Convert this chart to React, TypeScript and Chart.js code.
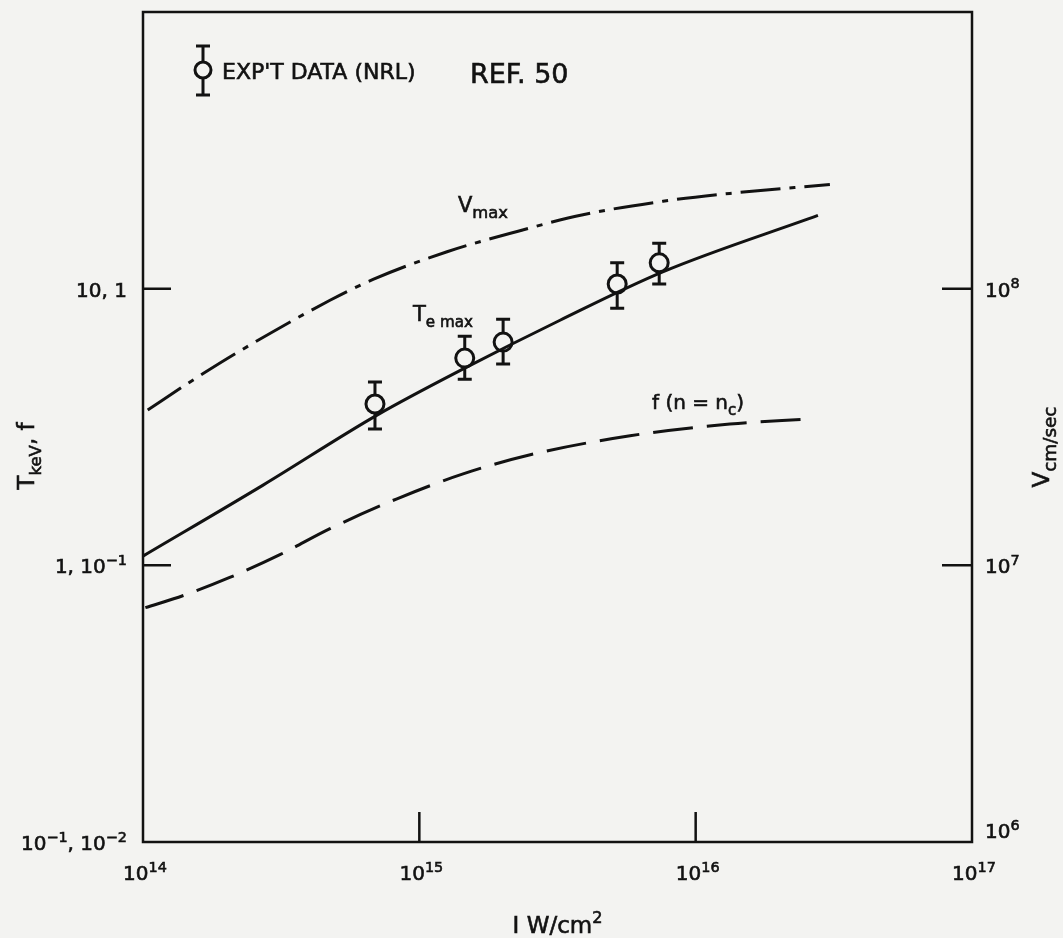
import React, { useEffect, useRef } from "react";
import { Chart, registerables } from "chart.js";

Chart.register(...registerables);

const W = 1063;
const H = 938;
const FONT = '"DejaVu Sans", "Liberation Sans", sans-serif';
const INK = "#121212";
const PAPER = "#f3f3f1";

// ---- data ----
// Te max (solid), keV
const teX = [1e14, 2.72e14, 7.03e14, 1.46e15, 3.23e15, 7.6e15, 2.77e16];
const teY = [1.08, 1.95, 3.49, 5.16, 7.69, 11.5, 18.4];
// Vmax (dash-dot), cm/sec
const vX = [1.04e14, 1.46e14, 2.24e14, 4.75e14, 6.8e14, 1.26e15, 2.26e15, 3.91e15, 7.62e15, 1.33e16, 3.06e16];
const vY = [3.64e7, 4.56e7, 5.95e7, 9.08e7, 1.08e8, 1.36e8, 1.61e8, 1.85e8, 2.07e8, 2.21e8, 2.38e8];
// f(n = nc) (dashed), fraction
const fX = [1.02e14, 1.4e14, 2.06e14, 3.13e14, 4.75e14, 8.3e14, 1.44e15, 2.52e15, 5.79e15, 1.33e16, 2.55e16];
const fY = [0.0703, 0.0778, 0.0904, 0.1093, 0.1357, 0.174, 0.214, 0.251, 0.294, 0.324, 0.338];
// experimental data (NRL), keV with error bars
const expX = [6.91e14, 1.46e15, 2.01e15, 5.2e15, 7.38e15];
const expY = [3.83, 5.61, 6.41, 10.4, 12.4];
const expLo = [3.11, 4.71, 5.34, 8.5, 10.4];
const expHi = [4.6, 6.73, 7.76, 12.4, 14.6];

// ---- ticks ----
const xTicks = [1e14, 1e15, 1e16, 1e17];
const xTickLabels = ["10^{14}", "10^{15}", "10^{16}", "10^{17}"];
const leftTicks = [0.1, 1, 10];
const leftTickLabels = ["10^{−1}, 10^{−2}", "1, 10^{−1}", "10, 1"];
const rightTicks = [1e6, 1e7, 1e8];
const rightTickLabels = ["10^{6}", "10^{7}", "10^{8}"];

// ---- texts ----
const xTitle = "I W/cm^{2}";
const yTitle = "T_{keV}, f";
const y1Title = "V_{cm/sec}";
const legendText = "EXP'T DATA (NRL)";
const refText = "REF. 50";
const vLabel = "V_{max}";
const teLabel = "T_{e max}";
const fLabel = "f (n = n_{c})";

type Seg = { t: string; k: number };
function parseRich(s: string): Seg[] {
  const segs: Seg[] = [];
  let cur = "";
  let i = 0;
  while (i < s.length) {
    const c = s[i];
    if ((c === "^" || c === "_") && s[i + 1] === "{") {
      if (cur) {
        segs.push({ t: cur, k: 0 });
        cur = "";
      }
      const end = s.indexOf("}", i + 2);
      segs.push({ t: s.slice(i + 2, end), k: c === "^" ? 1 : -1 });
      i = end + 1;
    } else {
      cur += c;
      i++;
    }
  }
  if (cur) segs.push({ t: cur, k: 0 });
  return segs;
}

function drawRich(
  ctx: CanvasRenderingContext2D,
  s: string,
  x: number,
  y: number,
  size: number,
  align: "left" | "center" | "right" = "left",
  scriptRatio = 0.74
) {
  const segs = parseRich(s);
  const small = size * scriptRatio;
  const fontFor = (k: number) => `${k === 0 ? size : small}px ${FONT}`;
  let total = 0;
  const widths = segs.map((sg) => {
    ctx.font = fontFor(sg.k);
    const w = ctx.measureText(sg.t).width;
    total += w;
    return w;
  });
  let cx = align === "left" ? x : align === "center" ? x - total / 2 : x - total;
  ctx.save();
  ctx.textAlign = "left";
  ctx.textBaseline = "alphabetic";
  ctx.fillStyle = INK;
  ctx.strokeStyle = INK;
  ctx.lineWidth = 0.6;
  ctx.setLineDash([]);
  segs.forEach((sg, i) => {
    ctx.font = fontFor(sg.k);
    const dy = sg.k === 1 ? -size * 0.42 : sg.k === -1 ? size * 0.3 : 0;
    ctx.fillText(sg.t, cx, y + dy);
    ctx.strokeText(sg.t, cx, y + dy);
    cx += widths[i];
  });
  ctx.restore();
}

const paperPlugin = {
  id: "paper",
  beforeDraw(chart: any) {
    const { ctx, width, height } = chart;
    ctx.save();
    ctx.fillStyle = PAPER;
    ctx.fillRect(0, 0, width, height);
    ctx.restore();
  },
};

const errorBarPlugin = {
  id: "errbars",
  beforeDatasetsDraw(chart: any) {
    const { ctx } = chart;
    const xs = chart.scales.x;
    const ys = chart.scales.y;
    ctx.save();
    ctx.strokeStyle = INK;
    ctx.lineWidth = 3;
    expX.forEach((v, i) => {
      const px = xs.getPixelForValue(v);
      const lo = ys.getPixelForValue(expLo[i]);
      const hi = ys.getPixelForValue(expHi[i]);
      ctx.beginPath();
      ctx.moveTo(px, lo);
      ctx.lineTo(px, hi);
      ctx.moveTo(px - 7, lo);
      ctx.lineTo(px + 7, lo);
      ctx.moveTo(px - 7, hi);
      ctx.lineTo(px + 7, hi);
      ctx.stroke();
    });
    ctx.restore();
  },
};

const framePlugin = {
  id: "frame",
  afterDraw(chart: any) {
    const { ctx, chartArea } = chart;
    const { left, right, top, bottom } = chartArea;
    const xs = chart.scales.x;
    const ys = chart.scales.y;
    const y1 = chart.scales.y1;
    ctx.save();
    ctx.strokeStyle = INK;
    ctx.fillStyle = INK;
    ctx.lineWidth = 2.5;
    ctx.strokeRect(left, top, right - left, bottom - top);

    // inward ticks (inner decades only)
    ctx.beginPath();
    xTicks.slice(1, -1).forEach((v) => {
      const px = xs.getPixelForValue(v);
      ctx.moveTo(px, bottom);
      ctx.lineTo(px, bottom - 30);
    });
    leftTicks.slice(1).forEach((v) => {
      const py = ys.getPixelForValue(v);
      ctx.moveTo(left, py);
      ctx.lineTo(left + 28, py);
    });
    rightTicks.slice(1).forEach((v) => {
      const py = y1.getPixelForValue(v);
      ctx.moveTo(right, py);
      ctx.lineTo(right - 30, py);
    });
    ctx.stroke();

    // tick labels
    xTicks.forEach((v, i) => {
      drawRich(ctx, xTickLabels[i], xs.getPixelForValue(v) + 2, bottom + 38, 20, "center", 0.72);
    });
    leftTicks.forEach((v, i) => {
      drawRich(ctx, leftTickLabels[i], left - 16, ys.getPixelForValue(v) + 8, 20, "right", 0.72);
    });
    rightTicks.forEach((v, i) => {
      const py = Math.min(y1.getPixelForValue(v) + 8, bottom - 4);
      drawRich(ctx, rightTickLabels[i], right + 13, py, 20, "left", 0.72);
    });

    // axis titles
    drawRich(ctx, xTitle, (left + right) / 2, H - 5, 23, "center", 0.7);
    ctx.save();
    ctx.translate(34, 456);
    ctx.rotate(-Math.PI / 2);
    drawRich(ctx, yTitle, 0, 0, 23, "center", 0.72);
    ctx.restore();
    ctx.save();
    ctx.translate(1049, 447);
    ctx.rotate(-Math.PI / 2);
    drawRich(ctx, y1Title, 0, 0, 23, "center", 0.8);
    ctx.restore();

    // curve labels
    drawRich(ctx, vLabel, 458, 212, 21, "left", 0.78);
    drawRich(ctx, teLabel, 413, 321, 21, "left", 0.72);
    drawRich(ctx, fLabel, 652, 409, 20, "left", 0.75);

    // legend
    const lx = 203;
    const ly = 70;
    ctx.lineWidth = 3;
    ctx.beginPath();
    ctx.moveTo(lx, 46);
    ctx.lineTo(lx, 95);
    ctx.moveTo(lx - 7, 46);
    ctx.lineTo(lx + 7, 46);
    ctx.moveTo(lx - 7, 95);
    ctx.lineTo(lx + 7, 95);
    ctx.stroke();
    ctx.beginPath();
    ctx.arc(lx, ly, 8, 0, Math.PI * 2);
    ctx.fillStyle = PAPER;
    ctx.fill();
    ctx.stroke();
    drawRich(ctx, legendText, 222, 79, 22, "left");
    drawRich(ctx, refText, 470, 83, 27, "left");
    ctx.restore();
  },
};

export default function App() {
  const ref = useRef<HTMLCanvasElement | null>(null);
  useEffect(() => {
    if (!ref.current) return;
    const pts = (xs: number[], ys: number[]) => xs.map((x, i) => ({ x, y: ys[i] }));
    const line = {
      showLine: true,
      borderColor: INK,
      borderWidth: 3,
      pointRadius: 0,
      cubicInterpolationMode: "monotone",
      fill: false,
    };
    const chart = new Chart(ref.current, {
      type: "scatter",
      data: {
        datasets: [
          { ...line, label: "Vmax", data: pts(vX, vY), yAxisID: "y1", borderDash: [40, 9, 6, 9] },
          { ...line, label: "Te max", data: pts(teX, teY), yAxisID: "y" },
          { ...line, label: "f(n = nc)", data: pts(fX, fY), yAxisID: "y2", borderDash: [40, 14] },
          {
            label: "EXP'T DATA (NRL)",
            data: pts(expX, expY),
            yAxisID: "y",
            showLine: false,
            pointRadius: 9,
            pointBorderWidth: 3,
            pointBorderColor: INK,
            pointBackgroundColor: PAPER,
          },
        ],
      },
      options: {
        animation: false,
        responsive: false,
        layout: { padding: { top: 10, left: 0, right: 0, bottom: 0 } },
        plugins: { legend: { display: false }, tooltip: { enabled: false }, title: { display: false } },
        scales: {
          x: {
            type: "logarithmic",
            position: "bottom",
            min: 1e14,
            max: 1e17,
            grid: { display: false, drawTicks: false },
            border: { display: false },
            ticks: { display: false },
            afterBuildTicks: (s: any) => {
              s.ticks = xTicks.map((value) => ({ value }));
            },
            afterFit: (s: any) => {
              s.height = H - 842;
            },
          },
          y: {
            type: "logarithmic",
            position: "left",
            min: 0.1,
            max: 100,
            grid: { display: false, drawTicks: false },
            border: { display: false },
            ticks: { display: false },
            afterBuildTicks: (s: any) => {
              s.ticks = leftTicks.map((value) => ({ value }));
            },
            afterFit: (s: any) => {
              s.width = 143;
            },
          },
          y1: {
            type: "logarithmic",
            position: "right",
            min: 1e6,
            max: 1e9,
            grid: { display: false, drawTicks: false },
            border: { display: false },
            ticks: { display: false },
            afterBuildTicks: (s: any) => {
              s.ticks = rightTicks.map((value) => ({ value }));
            },
            afterFit: (s: any) => {
              s.width = W - 972;
            },
          },
          y2: {
            type: "logarithmic",
            display: false,
            min: 0.01,
            max: 10,
          },
        },
      },
      plugins: [paperPlugin, errorBarPlugin, framePlugin],
    } as any);
    return () => chart.destroy();
  }, []);
  return (
    <div style={{ position: "absolute", left: 0, top: 0, width: W, height: H, background: PAPER }}>
      <canvas ref={ref} width={W} height={H} style={{ display: "block" }} />
    </div>
  );
}
